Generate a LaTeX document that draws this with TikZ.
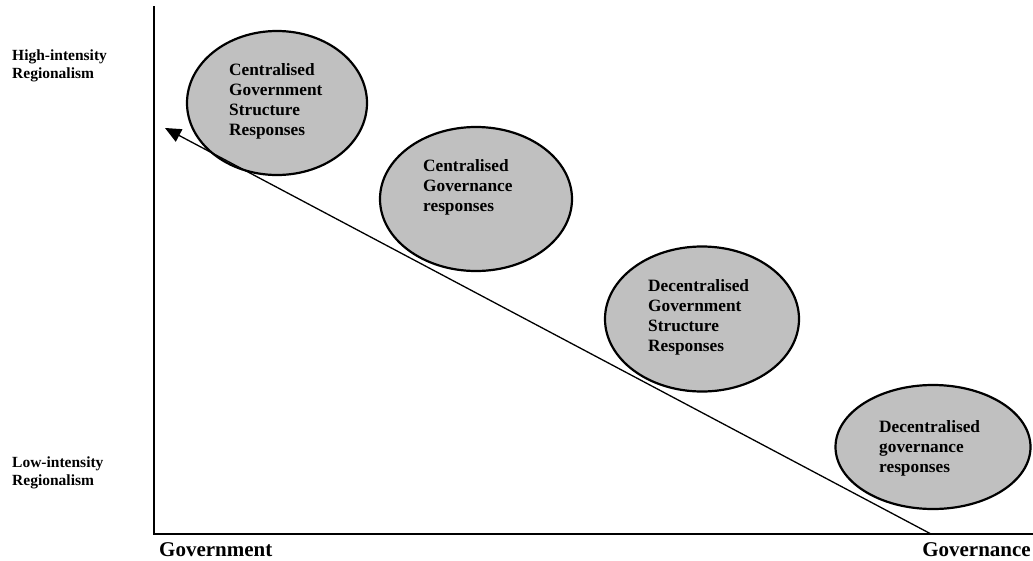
\documentclass[tikz,border=0pt]{standalone}
\usepackage{fontspec}
\setmainfont{Liberation Serif}
\usetikzlibrary{arrows.meta,shapes.geometric}
\definecolor{ellgray}{HTML}{C0C0C0}
\tikzset{
  resp/.style={ellipse,draw=black,line width=2.2pt,fill=ellgray,inner sep=0pt},
  resptext/.style={anchor=west,align=left,inner sep=0pt,font=\bfseries\fontsize{17.3}{20}\selectfont},
  sidelabel/.style={anchor=west,align=left,inner sep=0pt,font=\bfseries\fontsize{15.5}{18}\selectfont},
  axislabel/.style={inner sep=0pt,font=\bfseries\fontsize{21}{24}\selectfont},
  axisline/.style={line width=2.6pt,line cap=rect,line join=miter},
  trendline/.style={line width=1.3pt,-{Triangle[length=16pt,width=14pt]}}
}
\begin{document}
\begin{tikzpicture}[x=1pt,y=-1pt]
\useasboundingbox[fill=white] (0,0) rectangle (1033,560);
% axes
\coordinate (ytop) at (154,7);
\coordinate (origin) at (154,534);
\coordinate (xend) at (1033,534);
\draw[axisline] (ytop) -- (origin) -- (xend);
% ellipses
\node[resp,minimum width=180pt,minimum height=144pt] (e1) at (277,103) {};
\node[resp,minimum width=192pt,minimum height=144pt] (e2) at (476,199) {};
\node[resp,minimum width=194pt,minimum height=145pt] (e3) at (702,319) {};
\node[resp,minimum width=195pt,minimum height=124pt] (e4) at (933,447) {};
\node[resptext] (t1) at (229,101) {Centralised\\Government\\Structure\\Responses};
\node[resptext] (t2) at (423,187) {Centralised\\Governance\\responses};
\node[resptext] (t3) at (648,317) {Decentralised\\Government\\Structure\\Responses};
\node[resptext] (t4) at (879,448) {Decentralised\\governance\\responses};
% trend line
\coordinate (dstart) at (931,534);
\coordinate (dend) at (165,128);
\draw[trendline] (dstart) -- (dend);
% labels
\node[sidelabel] (high) at (12,66) {High-intensity\\Regionalism};
\node[sidelabel] (low) at (12,473) {Low-intensity\\Regionalism};
\node[axislabel,anchor=west] (gov) at (159,550) {Government};
\node[axislabel,anchor=east] (gova) at (1031,550) {Governance};
\end{tikzpicture}
\end{document}
